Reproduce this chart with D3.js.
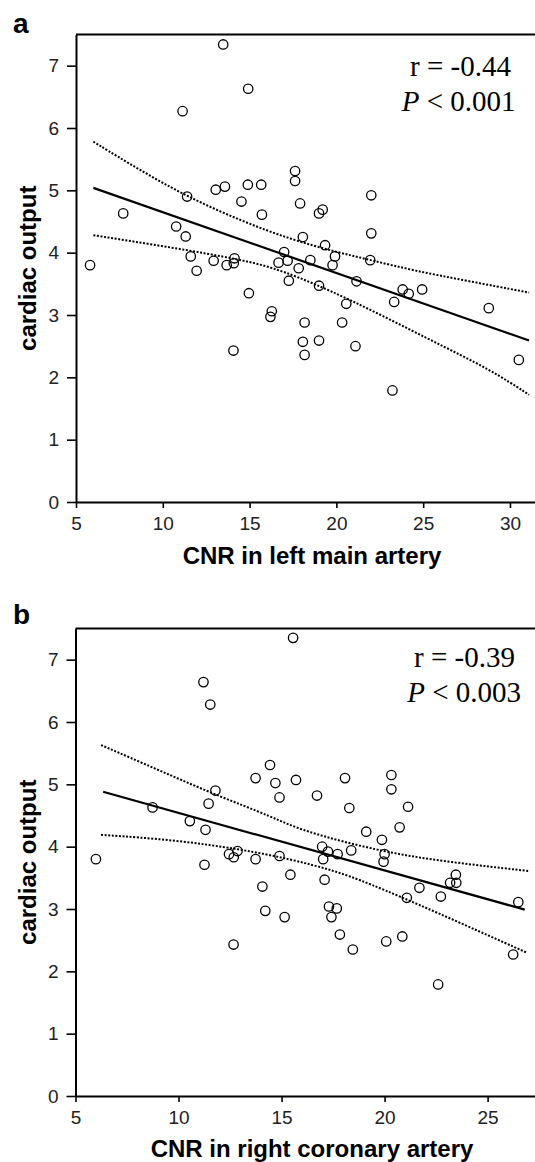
<!DOCTYPE html>
<html><head><meta charset="utf-8">
<script src="https://cdn.jsdelivr.net/npm/d3@7"></script>
<style>html,body{margin:0;padding:0;background:#fff;} svg{display:block}</style>
</head><body>
<svg id="c" width="535" height="1162"></svg>
<script>
// ---------- DATA ----------
const xTicksA = [5, 10, 15, 20, 25, 30];
const xTicksB = [5, 10, 15, 20, 25];
const yTicks = [0, 1, 2, 3, 4, 5, 6, 7];

// Panel a: CNR in left main artery vs cardiac output
const cnrLeftMain = [13.48,14.92,11.14,17.62,17.62,13.05,13.58,14.90,15.67,22.01,11.40,7.72,14.53,17.91,15.71,19.00,19.21,10.77,11.32,22.01,18.07,19.35,16.99,19.92,11.61,12.93,14.13,14.09,13.68,16.67,17.19,17.83,18.50,19.78,21.95,5.81,11.95,17.26,21.16,19.00,23.82,24.94,24.17,23.33,20.57,14.96,28.78,16.28,16.20,18.17,20.33,18.07,19.00,21.10,18.17,14.07,30.51,23.23];
const cardiacOutputA = [7.34,6.63,6.27,5.31,5.15,5.01,5.06,5.09,5.09,4.92,4.90,4.63,4.82,4.79,4.61,4.63,4.69,4.42,4.26,4.31,4.25,4.12,4.01,3.94,3.94,3.87,3.91,3.83,3.80,3.84,3.87,3.75,3.88,3.80,3.88,3.80,3.71,3.55,3.54,3.47,3.41,3.41,3.34,3.21,3.18,3.35,3.11,3.06,2.97,2.88,2.88,2.57,2.59,2.50,2.36,2.43,2.28,1.79];
const fitA = [[6.0, 5.04], [31.1, 2.59]];
const upperA = [[6.0,5.78],[8.7,5.32],[11.4,4.90],[14.5,4.51],[17.4,4.21],[20.0,4.01],[22.0,3.88],[24.5,3.71],[27.5,3.55],[31.1,3.36]];
const lowerA = [[6.0,4.28],[10.6,4.08],[14.5,3.89],[16.8,3.73],[20.6,3.28],[25.4,2.60],[28.9,2.12],[31.1,1.72]];

// Panel b: CNR in right coronary artery vs cardiac output
const cnrRCA = [15.56,11.21,11.54,14.44,13.74,14.70,15.70,18.08,20.33,20.33,11.79,8.74,11.46,14.90,16.72,18.29,21.14,10.55,11.31,19.11,20.73,19.87,16.97,17.25,17.72,18.38,20.00,19.95,17.02,12.86,12.45,12.68,5.99,11.26,13.74,14.90,15.43,17.09,23.46,23.18,23.48,21.69,22.73,21.08,26.49,14.07,14.21,17.30,17.68,17.42,15.15,17.83,20.86,20.08,18.46,12.67,26.24,22.60];
const cardiacOutputB = [7.35,6.64,6.28,5.31,5.10,5.02,5.07,5.10,5.15,4.92,4.90,4.63,4.69,4.79,4.82,4.62,4.64,4.41,4.27,4.24,4.31,4.11,4.00,3.92,3.88,3.94,3.88,3.76,3.80,3.93,3.88,3.83,3.80,3.71,3.80,3.85,3.55,3.47,3.55,3.42,3.42,3.34,3.20,3.18,3.11,3.36,2.97,3.04,3.01,2.87,2.87,2.59,2.56,2.48,2.35,2.43,2.27,1.79];
const fitB = [[6.34, 4.88], [26.8, 2.99]];
const upperB = [[6.24,5.63],[8.96,5.24],[11.72,4.84],[14.63,4.47],[15.9,4.26],[19.94,3.91],[23.18,3.75],[26.98,3.61]];
const lowerB = [[6.24,4.19],[9.77,4.11],[13.0,3.96],[15.44,3.80],[17.5,3.62],[19.13,3.43],[22.37,2.97],[26.9,2.30]];

// ---------- LAYOUT ----------
const svg = d3.select('#c');
const panels = [
  {id:'a', letter:'a', xs:cnrLeftMain, ys:cardiacOutputA, fit:fitA, up:upperA, lo:lowerA, xTicks:xTicksA,
   xDomain:[5, 31.5], left:76, right:536, top:34.5, bottom:502,
   xTitle:'CNR in left main artery', xTitleY:563.5, letterY:33,
   r:'r = -0.44', rX:511, rY:76, p:' < 0.001', pX:515.5, pY:111},
  {id:'b', letter:'b', xs:cnrRCA, ys:cardiacOutputB, fit:fitB, up:upperB, lo:lowerB, xTicks:xTicksB,
   xDomain:[5, 27.3], left:75.5, right:535, top:628.5, bottom:1096,
   xTitle:'CNR in right coronary artery', xTitleY:1156.5, letterY:624,
   r:'r = -0.39', rX:515, rY:667, p:' < 0.003', pX:521, pY:702}
];

const sans = "'Liberation Sans', Arial, Helvetica, sans-serif";
const serif = "'Liberation Serif', 'Times New Roman', Times, serif";

panels.forEach(P => {
  const x = d3.scaleLinear().domain(P.xDomain).range([P.left, P.right]);
  const y = d3.scaleLinear().domain([0, 7.5]).range([P.bottom, P.top]);
  const g = svg.append('g');

  const clipId = 'clip-' + P.id;
  svg.append('clipPath').attr('id', clipId).append('rect')
    .attr('x', P.left).attr('y', P.top).attr('width', 540 - P.left).attr('height', P.bottom - P.top);

  // Axes
  const yAxis = d3.axisLeft(y).tickValues(yTicks).tickSize(9).tickSizeOuter(0).tickPadding(8).tickFormat(d3.format('d'));
  const xAxis = d3.axisBottom(x).tickValues(P.xTicks).tickSize(6).tickSizeOuter(0).tickPadding(9).tickFormat(d3.format('d'));
  const ga = g.append('g').attr('transform', `translate(${P.left},0)`).call(yAxis);
  const gb = g.append('g').attr('transform', `translate(0,${P.bottom})`).call(xAxis);
  [ga, gb].forEach(s => {
    s.select('.domain').attr('stroke', '#000').attr('stroke-width', 2);
    s.selectAll('.tick line').attr('stroke', '#000').attr('stroke-width', 1.6);
    s.selectAll('.tick text').attr('font-family', sans).attr('font-size', 19).attr('fill', '#222');
  });
  // top frame line
  g.append('line').attr('x1', P.left).attr('x2', 535).attr('y1', P.top).attr('y2', P.top)
    .attr('stroke', '#000').attr('stroke-width', 2);

  const plot = g.append('g').attr('clip-path', `url(#${clipId})`);
  const lineGen = d3.line().x(d => x(d[0])).y(d => y(d[1]));
  const curveGen = d3.line().x(d => x(d[0])).y(d => y(d[1])).curve(d3.curveBasis);

  plot.append('path').datum(P.up).attr('d', curveGen).attr('fill', 'none')
    .attr('stroke', '#000').attr('stroke-width', 2).attr('stroke-dasharray', '2,1.6');
  plot.append('path').datum(P.lo).attr('d', curveGen).attr('fill', 'none')
    .attr('stroke', '#000').attr('stroke-width', 2).attr('stroke-dasharray', '2,1.6');
  plot.append('path').datum(P.fit).attr('d', lineGen).attr('fill', 'none')
    .attr('stroke', '#000').attr('stroke-width', 2.2);

  plot.selectAll('circle.pt').data(P.xs.map((v, i) => [v, P.ys[i]])).enter()
    .append('circle').attr('class', 'pt')
    .attr('cx', d => x(d[0])).attr('cy', d => y(d[1])).attr('r', 4.7)
    .attr('fill', 'none').attr('stroke', '#000').attr('stroke-width', 1.3);

  // Panel letter
  g.append('text').attr('x', 13).attr('y', P.letterY).text(P.letter)
    .attr('font-family', sans).attr('font-weight', 'bold').attr('font-size', 28);

  // Axis titles
  g.append('text').attr('x', 312).attr('y', P.xTitleY).attr('text-anchor', 'middle')
    .attr('font-family', sans).attr('font-weight', 'bold').attr('font-size', 24).text(P.xTitle);
  g.append('text').attr('transform', `translate(36,${(P.top + P.bottom) / 2}) rotate(-90)`)
    .attr('text-anchor', 'middle').attr('font-family', sans).attr('font-weight', 'bold')
    .attr('font-size', 24).text('cardiac output');

  // Stats annotation
  g.append('text').attr('x', P.rX).attr('y', P.rY).attr('text-anchor', 'end')
    .attr('font-family', serif).attr('font-size', 29).text(P.r);
  const pt = g.append('text').attr('x', P.pX).attr('y', P.pY).attr('text-anchor', 'end')
    .attr('font-family', serif).attr('font-size', 29);
  pt.append('tspan').attr('font-style', 'italic').text('P');
  pt.append('tspan').text(P.p);
});
</script>
</body></html>
